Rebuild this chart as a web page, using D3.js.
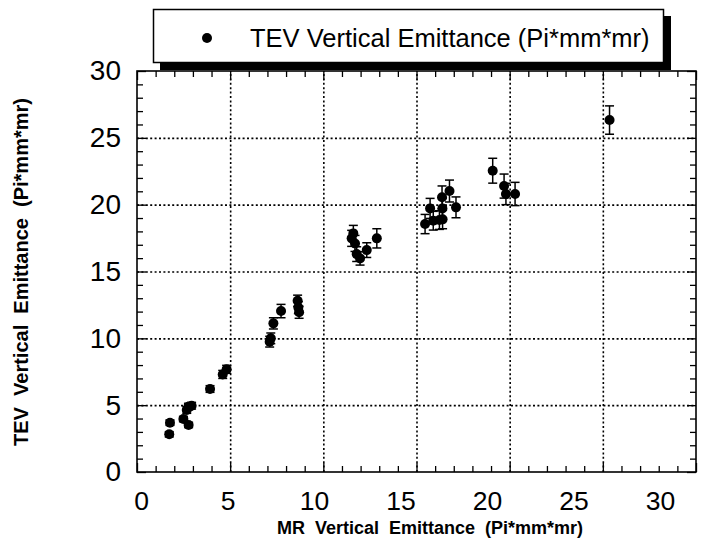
<!DOCTYPE html>
<html><head><meta charset="utf-8">
<script src="https://cdn.jsdelivr.net/npm/d3@7"></script>
<style>
html,body{margin:0;padding:0;background:#fff;}
svg{display:block;font-family:"Liberation Sans",Arial,Helvetica,sans-serif;}
</style></head>
<body><svg id="c" width="711" height="540"></svg>
<script>
// ---- data ----
const mrEmittance = [1.73,1.77,2.49,2.77,2.67,2.93,2.76,3.92,4.60,4.81,
  7.12,7.18,7.32,7.73,8.62,8.66,8.70,
  11.52,11.61,11.70,11.79,11.97,12.33,12.87,
  15.46,15.73,15.90,16.23,16.40,16.39,16.37,16.77,17.12,
  19.09,19.70,19.80,20.29,25.36];
const tevEmittance = [2.82,3.69,3.96,3.52,4.64,4.96,4.89,6.21,7.30,7.68,
  9.75,10.0,11.12,12.04,12.81,12.3,11.95,
  17.48,17.85,17.1,16.3,15.98,16.6,17.48,
  18.55,19.72,18.8,18.85,18.9,19.72,20.55,21.02,19.8,
  22.54,21.39,20.8,20.8,26.33];
const tevError = [0.2,0.2,0.2,0.2,0.25,0.25,0.25,0.25,0.3,0.3,
  0.4,0.4,0.42,0.5,0.42,0.45,0.45,
  0.6,0.6,0.6,0.55,0.5,0.55,0.72,
  0.72,0.75,0.7,0.7,0.7,0.75,0.85,0.82,0.78,
  0.93,0.9,0.8,0.87,1.06];
const majorTicks = [0,5,10,15,20,25,30];
const minorTicks = d3.range(0,31).filter(v => v % 5 !== 0);
const gridTicks = [5,10,15,20,25];
const xTitle = "MR  Vertical  Emittance  (Pi*mm*mr)";
const yTitle = "TEV  Vertical  Emittance  (Pi*mm*mr)";
const legendLabel = "TEV Vertical Emittance (Pi*mm*mr)";

const data = mrEmittance.map((x,i)=>({x, y: tevEmittance[i], e: tevError[i]}));

// ---- layout ----
const svg = d3.select("#c");
const L = 137, T = 71, R = 696, B = 472;
const W = R - L, H = B - T;
const x = d3.scaleLinear().domain([0,30]).range([0,W]);
const y = d3.scaleLinear().domain([0,30]).range([H,0]);
// the original plotting package placed the x tick labels on a slightly narrower span
const xLabel = d3.scaleLinear().domain([0,30]).range([141-L, 660-L]);
const g = svg.append("g").attr("transform",`translate(${L},${T})`);

// grid
const gridX = g.append("g").attr("transform",`translate(0,${H})`)
  .call(d3.axisBottom(x).tickValues(gridTicks).tickSize(-H).tickFormat(""));
const gridY = g.append("g")
  .call(d3.axisLeft(y).tickValues(gridTicks).tickSize(-W).tickFormat(""));
[gridX,gridY].forEach(a=>{
  a.select(".domain").remove();
  a.selectAll("line").attr("stroke","#000").attr("stroke-width",1.6).attr("stroke-dasharray","2,2.4");
});

function styleAxis(a, fs){
  a.select(".domain").remove();
  a.selectAll("line").attr("stroke","#000").attr("stroke-width",1.3);
  a.selectAll("text").attr("font-size",fs||28).attr("fill","#000");
}
// bottom
styleAxis(g.append("g").attr("transform",`translate(0,${H})`)
  .call(d3.axisBottom(x).tickValues(majorTicks).tickSize(-9).tickFormat("")));
styleAxis(g.append("g").attr("transform",`translate(0,${H})`)
  .call(d3.axisBottom(x).tickValues(minorTicks).tickSize(-6).tickFormat("")));
// bottom labels
const bl = g.append("g").attr("transform",`translate(0,${H})`)
  .call(d3.axisBottom(xLabel).tickValues(majorTicks).tickSize(0).tickPadding(19).tickFormat(d3.format("d")));
styleAxis(bl, 26.5);
bl.selectAll("line").remove();
// top
styleAxis(g.append("g")
  .call(d3.axisTop(x).tickValues(majorTicks).tickSize(-9).tickFormat("")));
styleAxis(g.append("g")
  .call(d3.axisTop(x).tickValues(minorTicks).tickSize(-6).tickFormat("")));
// left
styleAxis(g.append("g")
  .call(d3.axisLeft(y).tickValues(majorTicks).tickSize(-9).tickPadding(16).tickFormat(d3.format("d"))));
styleAxis(g.append("g")
  .call(d3.axisLeft(y).tickValues(minorTicks).tickSize(-6).tickFormat("")));
// right
styleAxis(g.append("g").attr("transform",`translate(${W},0)`)
  .call(d3.axisRight(y).tickValues(majorTicks).tickSize(-9).tickFormat("")));
styleAxis(g.append("g").attr("transform",`translate(${W},0)`)
  .call(d3.axisRight(y).tickValues(minorTicks).tickSize(-6).tickFormat("")));

// frame
g.append("rect").attr("x",0).attr("y",0).attr("width",W).attr("height",H)
  .attr("fill","none").attr("stroke","#000").attr("stroke-width",1.6);

// error bars
const eb = g.append("g").attr("stroke","#000").attr("stroke-width",1.5);
eb.selectAll(".v").data(data).join("line")
  .attr("x1",d=>x(d.x)).attr("x2",d=>x(d.x))
  .attr("y1",d=>y(d.y+d.e)).attr("y2",d=>y(d.y-d.e));
eb.selectAll(".t").data(data).join("line")
  .attr("x1",d=>x(d.x)-4.5).attr("x2",d=>x(d.x)+4.5)
  .attr("y1",d=>y(d.y+d.e)).attr("y2",d=>y(d.y+d.e));
eb.selectAll(".b").data(data).join("line")
  .attr("x1",d=>x(d.x)-4.5).attr("x2",d=>x(d.x)+4.5)
  .attr("y1",d=>y(d.y-d.e)).attr("y2",d=>y(d.y-d.e));
// points
g.append("g").selectAll("circle").data(data).join("circle")
  .attr("cx",d=>x(d.x)).attr("cy",d=>y(d.y)).attr("r",5).attr("fill","#000");

// axis titles
svg.append("text").attr("x",430).attr("y",533.5).attr("text-anchor","middle")
  .attr("font-size",18).attr("font-weight","bold").style("white-space","pre").text(xTitle);
svg.append("text").attr("transform","translate(28,272) rotate(-90)").attr("text-anchor","middle")
  .attr("font-size",20).attr("font-weight","bold").style("white-space","pre").text(yTitle);

// legend
const lg = svg.append("g");
lg.append("rect").attr("x",160).attr("y",16).attr("width",511).attr("height",54).attr("fill","#000");
lg.append("rect").attr("x",153.5).attr("y",9.5).attr("width",510).attr("height",53)
  .attr("fill","#fff").attr("stroke","#000").attr("stroke-width",1.5);
lg.append("circle").attr("cx",207).attr("cy",38).attr("r",5).attr("fill","#000");
lg.append("text").attr("x",250).attr("y",47).attr("font-size",25.5).attr("fill","#000").text(legendLabel);
</script></body></html>
